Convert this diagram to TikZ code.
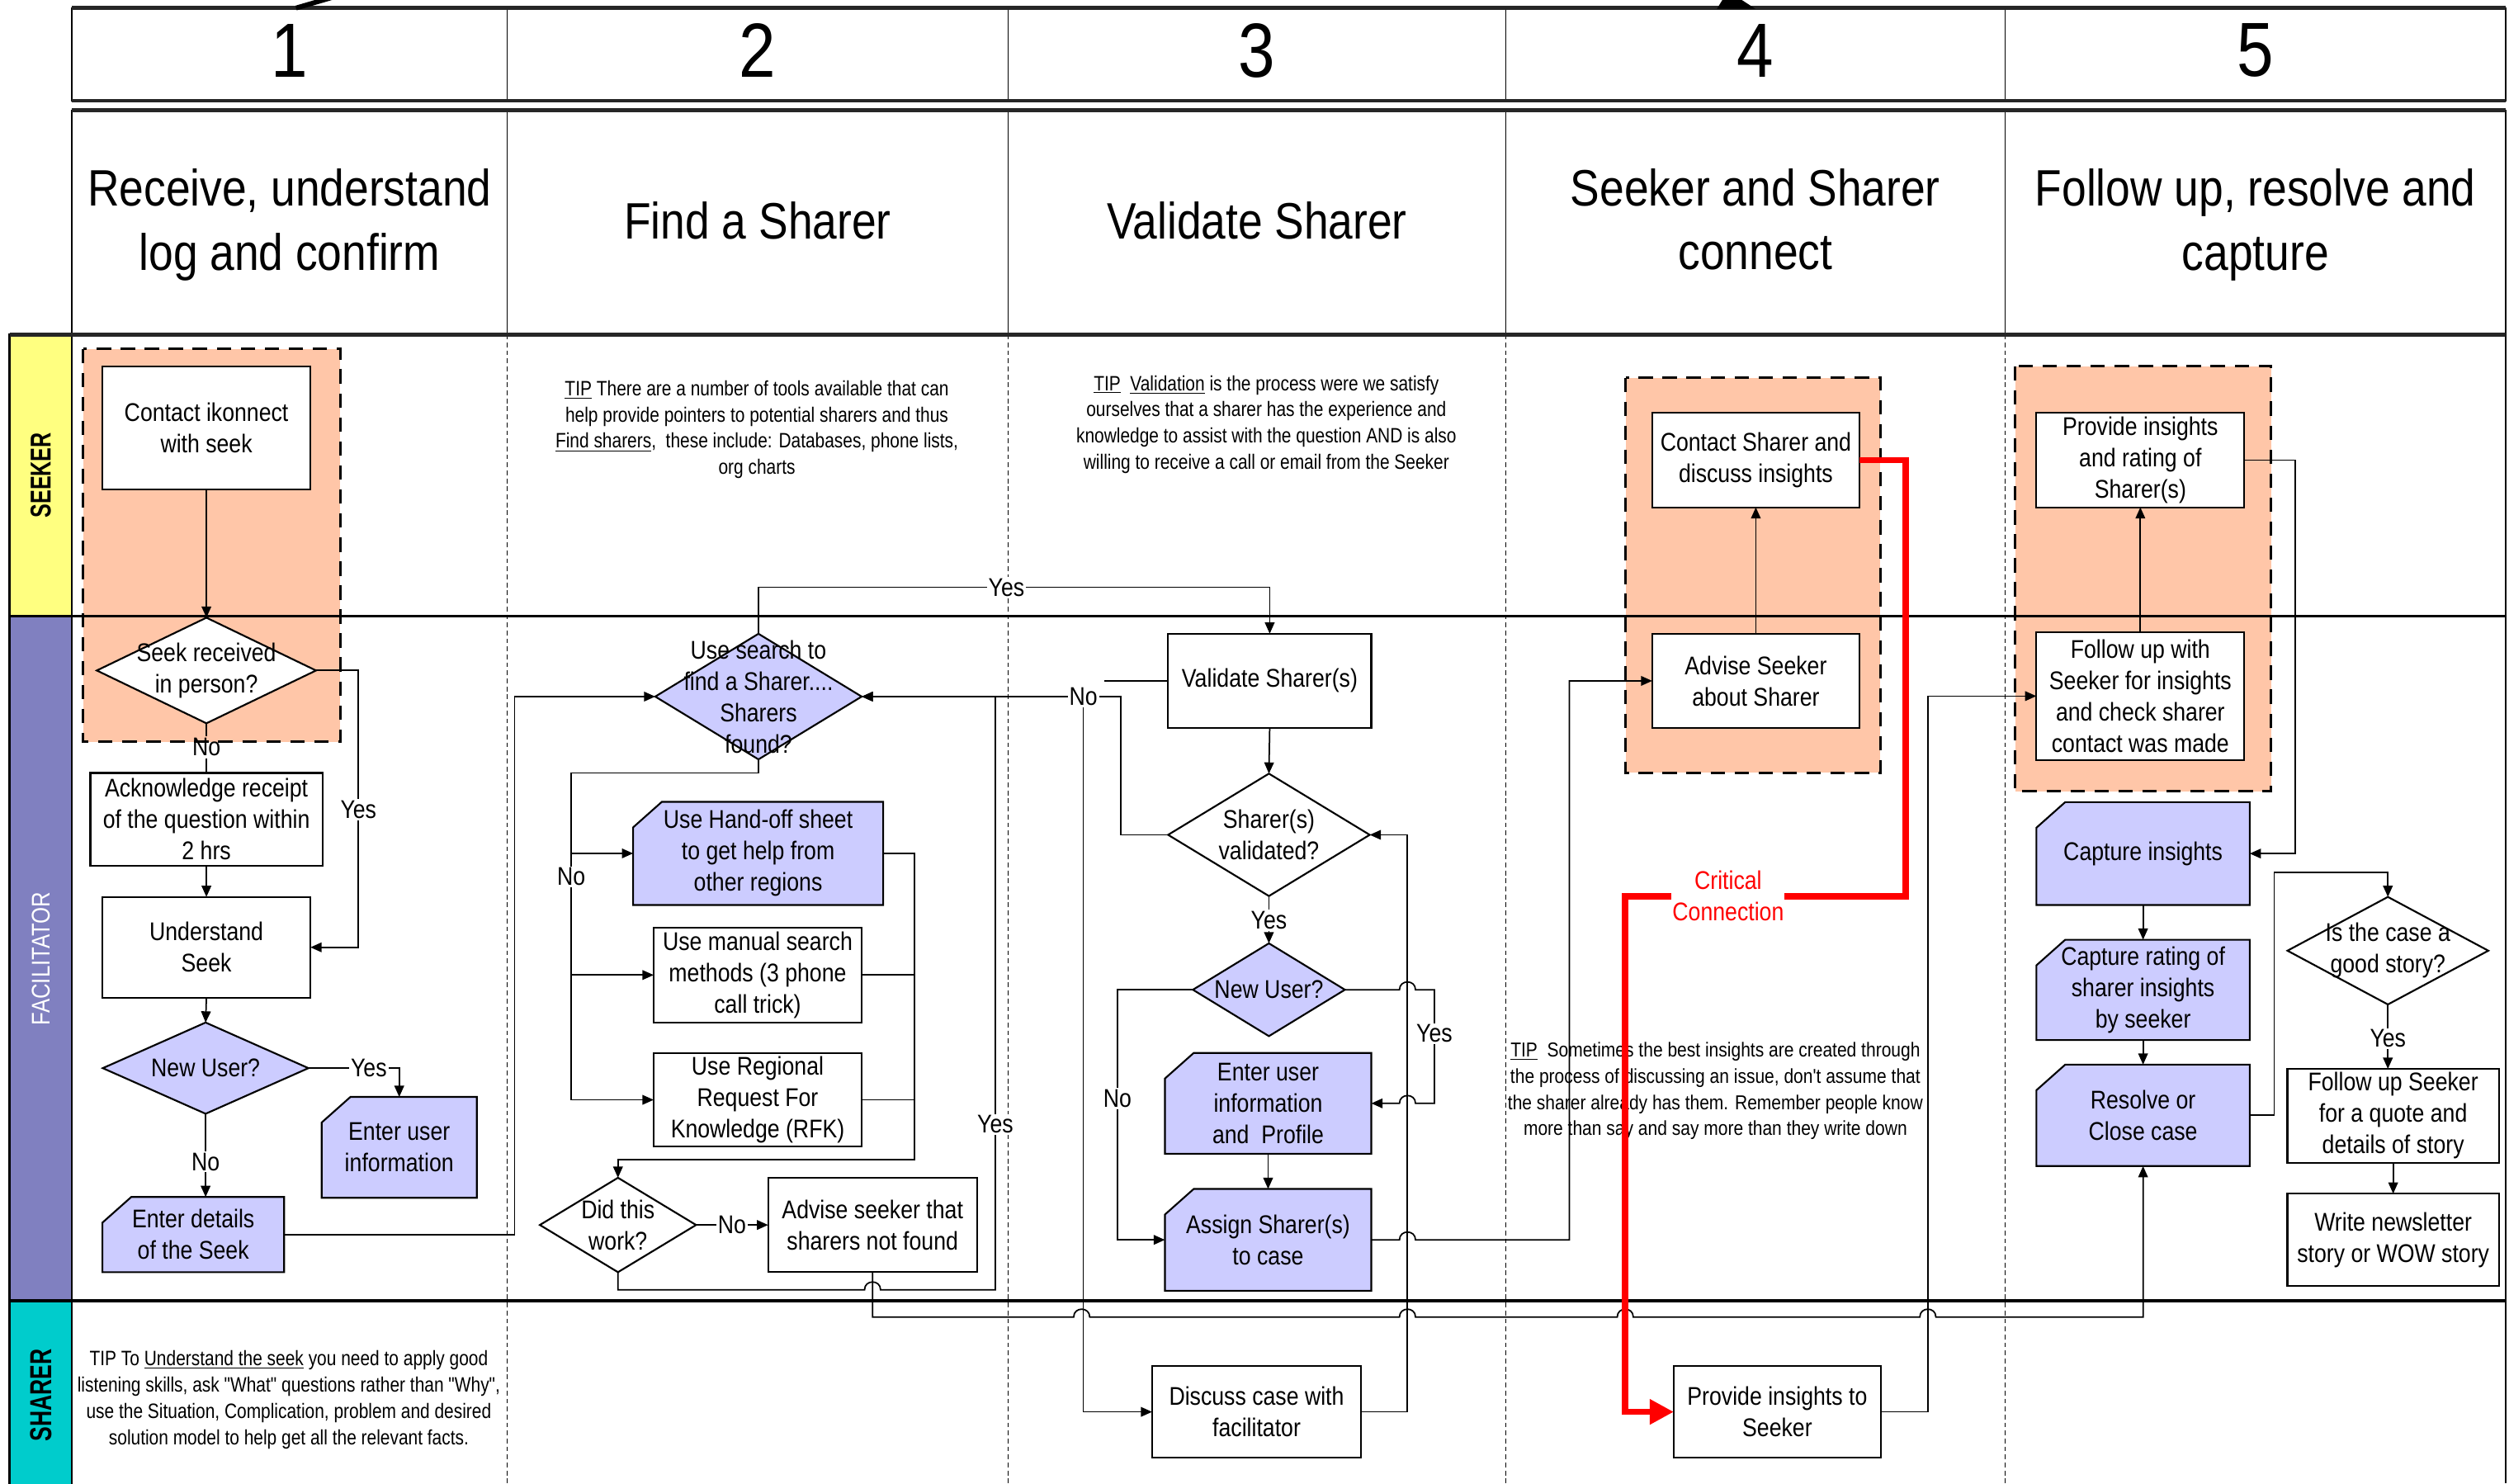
\documentclass[tikz,border=0pt]{standalone}
\usepackage{fontspec}
\setmainfont{Liberation Sans}
\newfontfamily\boxfont[FakeStretch=0.86]{Liberation Sans}
\newfontfamily\narrowfont[FakeStretch=0.83]{Liberation Sans}
\newfontfamily\headfont[FakeStretch=0.86]{Liberation Sans}
\newfontfamily\lanefont[FakeStretch=0.72]{Liberation Sans}
\usetikzlibrary{shapes.geometric,arrows.meta}
\definecolor{salmon}{HTML}{FFC6A8}
\definecolor{lav}{HTML}{CCCCFF}
\definecolor{seekY}{HTML}{FFFF80}
\definecolor{facP}{HTML}{8080C0}
\definecolor{shaC}{HTML}{00CCCC}
\newcommand\bfs{\boxfont\fontsize{16}{19.6}\selectfont}
\newcommand\tipfs{\narrowfont\fontsize{13}{16.4}\selectfont}
\newcommand\mycard[6]{%
  \filldraw[fill=lav,line width=1.1pt] ({#2-#4/2},{#3-#5/2+16}) -- ({#2-#4/2+18},{#3-#5/2}) -- ({#2+#4/2},{#3-#5/2}) -- ({#2+#4/2},{#3+#5/2}) -- ({#2-#4/2},{#3+#5/2}) -- cycle;
  \node[cardtxt,minimum width=#4,minimum height=#5] (#1) at (#2,#3) {#6};}
\begin{document}
\begin{tikzpicture}[x=1pt,y=-1pt,
  box/.style={draw,line width=1.1pt,fill=white,inner sep=0pt,outer sep=0pt,align=center,font=\bfs},
  cardtxt/.style={inner sep=0pt,outer sep=0pt,align=center,font=\bfs},
  dia/.style={diamond,draw,line width=1.1pt,fill=white,inner sep=0pt,outer sep=0pt},
  dlab/.style={font=\bfs,align=center,inner sep=0pt},
  arr/.style={line width=0.9pt,-{Triangle[length=7pt,width=6pt]}},
  conn/.style={line width=0.9pt},
  lbl/.style={font=\bfs,fill=white,inner sep=1pt},
  tip/.style={font=\tipfs,align=center,inner sep=0pt},
  grp/.style={fill=salmon,draw,line width=1.5pt,dash pattern=on 9pt off 6pt},
  numtxt/.style={font=\headfont\fontsize{48}{48}\selectfont,inner sep=0pt},
  titletxt/.style={font=\headfont\fontsize{32}{40}\selectfont,align=center,inner sep=0pt}]
\useasboundingbox (0,0) rectangle (1568,927);
\fill[white] (0,0) rectangle (1568,927);

% lane label column
\filldraw[fill=seekY,line width=1.2pt] (6,209) rectangle (45,385);
\filldraw[fill=facP,line width=1.2pt] (6,385) rectangle (45,813);
\filldraw[fill=shaC,line width=1.2pt] (6,813) rectangle (45,930);

% salmon groups
\draw[grp] (52,218) rectangle (212.6,463.6);
\draw[grp] (1016,236) rectangle (1175,483);
\draw[grp] (1259.5,228.8) rectangle (1419.4,494.4);

% grid
\foreach \x in {317,630,941,1253} {
  \draw[line width=0.8pt,dash pattern=on 3pt off 2pt] (\x,209) -- (\x,927);
  \draw[line width=0.8pt] (\x,5) -- (\x,63);
  \draw[line width=0.8pt] (\x,69) -- (\x,209);
}
\draw[line width=0.8pt] (45,5) rectangle (1566,63);
\draw[line width=0.8pt] (45,69) rectangle (1566,209);
\draw[line width=2.4pt,black!85] (45,5) -- (1566,5) (45,63) -- (1566,63) (45,69) -- (1566,69);
\draw[line width=1pt] (1566,209) -- (1566,927);
\draw[line width=1pt] (45,209) -- (45,927);
\draw[line width=2pt] (6,385) -- (1566,385) (6,813) -- (1566,813);
\draw[line width=2.6pt,black!85] (6,209) -- (1566,209);

% fragments at the very top
\draw[line width=3pt] (185,5) -- (209,-2);
\fill (1073,5.5) -- (1097,5.5) -- (1087,-1) -- (1077,-1) -- cycle;

% headers
\node[numtxt] (h1) at (181,31.6) {1};
\node[numtxt] (h2) at (473.5,31.6) {2};
\node[numtxt] (h3) at (785.5,31.6) {3};
\node[numtxt] (h4) at (1097,31.6) {4};
\node[numtxt] (h5) at (1409.5,31.6) {5};
\node[titletxt] (t1) at (181,140.6) {Receive, understand\\log and confirm};
\node[titletxt] (t2) at (473.5,138) {Find a Sharer};
\node[titletxt] (t3) at (785.5,138) {Validate Sharer};
\node[titletxt] (t4) at (1097,137.2) {Seeker and Sharer\\connect};
\node[titletxt] (t5) at (1409.5,140.6) {Follow up, resolve and\\capture};

% lane names
\node[rotate=90,font=\lanefont\bfseries\fontsize{18}{18}\selectfont] (lseek) at (25.5,297) {SEEKER};
\node[rotate=90,text=white,font=\narrowfont\fontsize{16}{16}\selectfont] (lfac) at (25.5,599) {FACILITATOR};
\node[rotate=90,font=\lanefont\bfseries\fontsize{19}{19}\selectfont] (lsha) at (25.5,872) {SHARER};

% tips
\node[tip] (tip2) at (473,268.5) {\underline{TIP} There are a number of tools available that can\\help provide pointers to potential sharers and thus\\\underline{Find sharers},\ \ these include: Databases, phone lists,\\org charts};
\node[tip] (tip3) at (791.4,265.2) {\underline{TIP}\ \ \underline{Validation} is the process were we satisfy\\ourselves that a sharer has the experience and\\knowledge to assist with the question AND is also\\willing to receive a call or email from the Seeker};
\node[tip,font=\boxfont\fontsize{12.6}{16.4}\selectfont] (tip4) at (1072,681.8) {\underline{TIP}\ \ Sometimes the best insights are created through\\the process of discussing an issue, don't assume that\\the sharer already has them. Remember people know\\more than say and say more than they write down};
\node[tip] (tip1) at (180.5,874.7) {TIP To \underline{Understand the seek} you need to apply good\\listening skills, ask "What" questions rather than "Why",\\use the Situation, Complication, problem and desired\\solution model to help get all the relevant facts.};

% column 1
\node[box,minimum width=130,minimum height=77] (c1) at (129,267.5) {Contact ikonnect\\with seek};
\node[dia,minimum width=137,minimum height=66] (sr) at (129,419) {};
\node[dlab] (srt) at (sr) {Seek received\\in person?};
\node[box,minimum width=145,minimum height=58] (ack) at (129,512) {Acknowledge receipt\\of the question within\\2 hrs};
\node[box,minimum width=130,minimum height=63] (und) at (129,592) {Understand\\Seek};
\node[dia,fill=lav,minimum width=128.5,minimum height=57] (nu1) at (128.5,667.5) {};
\node[dlab] (nu1t) at (nu1) {New User?};
\mycard{eui1}{249.5}{717}{97}{63}{Enter user\\information}
\mycard{eds}{120.8}{771.5}{113.5}{47}{Enter details\\of the Seek}

% column 2
\node[dia,fill=lav,minimum width=129,minimum height=78.5] (se) at (474,435.3) {};
\node[dlab] (set) at (se) {Use search to\\find a Sharer....\\Sharers\\found?};
\mycard{ho}{473.8}{533.3}{156.3}{64.5}{Use Hand-off sheet\\to get help from\\other regions}
\node[box,minimum width=130,minimum height=59.3] (ms) at (473.5,609.3) {Use manual search\\methods (3 phone\\call trick)};
\node[box,minimum width=130,minimum height=58.5] (rfk) at (473.5,687.3) {Use Regional\\Request For\\Knowledge (RFK)};
\node[dia,minimum width=97.6,minimum height=59] (dw) at (386.2,765.5) {};
\node[dlab] (dwt) at (dw) {Did this\\work?};
\node[box,minimum width=130.5,minimum height=59] (asn) at (545.3,765.5) {Advise seeker that\\sharers not found};

% column 3
\node[box,minimum width=127,minimum height=59] (vs) at (793.5,425.5) {Validate Sharer(s)};
\node[dia,minimum width=126,minimum height=76.5] (sv) at (793,521.7) {};
\node[dlab] (svt) at (sv) {Sharer(s)\\validated?};
\node[dia,fill=lav,minimum width=95,minimum height=58] (nu3) at (793,618.5) {};
\node[dlab] (nu3t) at (nu3) {New User?};
\mycard{eui3}{792.5}{689.5}{129}{63}{Enter user\\information\\and\ \ Profile}
\mycard{asg}{792.5}{774.8}{129}{63.6}{Assign Sharer(s)\\to case}
\node[box,minimum width=130.6,minimum height=57.4] (dcf) at (785.3,882.3) {Discuss case with\\facilitator};

% column 4
\node[box,minimum width=129.5,minimum height=59] (csd) at (1097.3,287.5) {Contact Sharer and\\discuss insights};
\node[box,minimum width=129.5,minimum height=59] (ass) at (1097.3,425.5) {Advise Seeker\\about Sharer};
\node[box,minimum width=129.4,minimum height=57.4] (pis) at (1110.7,882.3) {Provide insights to\\Seeker};

% column 5
\node[box,minimum width=130,minimum height=59] (pir) at (1337.6,287.5) {Provide insights\\and rating of\\Sharer(s)};
\node[box,minimum width=130,minimum height=80] (fus) at (1337.6,435) {Follow up with\\Seeker for insights\\and check sharer\\contact was made};
\mycard{ci}{1339.3}{533.4}{133.3}{64.3}{Capture insights}
\mycard{cr}{1339.3}{618.6}{133.3}{62.7}{Capture rating of\\sharer insights\\by seeker}
\mycard{rcc}{1339.3}{697}{133.3}{63.4}{Resolve or\\Close case}
\node[dia,minimum width=125.5,minimum height=67.2] (gs) at (1492.3,594.1) {};
\node[dlab] (gst) at (gs) {Is the case a\\good story?};
\node[box,minimum width=132.2,minimum height=58.7] (fuq) at (1495.6,697.3) {Follow up Seeker\\for a quote and\\details of story};
\node[box,minimum width=132.2,minimum height=57.7] (wn) at (1495.6,774.8) {Write newsletter\\story or WOW story};

% connectors column 1
\draw[arr] (c1.south) -- (sr.north);
\node[font=\bfs,inner sep=1pt] (no1) at (129,467) {No};
\draw[conn] (sr.south) -- (no1.north);
\draw[conn] (no1.south) -- (ack.north);
\draw[arr] (ack.south) -- (und.north);
\draw[arr] (sr.east) -- (224,419) -- (224,592) -- (und.east);
\draw[arr] (und.south) -- (nu1.north);
\draw[arr] (nu1.east) -- (249.5,667.5) -- (eui1.north);
\draw[arr] (nu1.south) -- (nu1.south |- eds.north);
\draw[arr] (eds.east) -- (321.6,771.5) -- (321.6,435.3) -- (se.west);

% connectors column 2
\draw[arr] (se.north) -- (474,367) -- (793.5,367) -- (vs.north);
\coordinate (b1) at (357,533.3);
\coordinate (b2) at (357,609.3);
\draw[arr] (se.south) -- (474,483) -- (357,483) -- (357,687.3) -- (rfk.west);
\draw[arr] (b1) -- (ho.west);
\draw[arr] (b2) -- (ms.west);
\draw[arr] (ho.east) -- (571.6,533.3) -- (571.6,724.7) -- (386.2,724.7) -- (dw.north);
\draw[conn] (ms.east) -- (571.6,609.3);
\draw[conn] (rfk.east) -- (571.6,687.3);
\draw[arr] (dw.east) -- (asn.west);
\draw[arr] (dw.south) -- (386.2,806) -- (540.3,806) .. controls (540.3,799.5) and (550.3,799.5) .. (550.3,806) -- (622,806) -- (622,435.3) -- (se.east);
\draw[arr] (asn.south) -- (545.3,823) -- (671,823) .. controls (671,816.5) and (681,816.5) .. (681,823)
  -- (874.6,823) .. controls (874.6,816.5) and (884.6,816.5) .. (884.6,823)
  -- (1010.7,823) .. controls (1010.7,816.5) and (1020.7,816.5) .. (1020.7,823)
  -- (1199.8,823) .. controls (1199.8,816.5) and (1209.8,816.5) .. (1209.8,823)
  -- (1339.3,823) -- (rcc.south);

% connectors column 3
\draw[arr] (sv.west) -- (700.4,521.7) -- (700.4,435.3) -- (se.east);
\coordinate (vstub) at (690,425.5);
\draw[conn] (vs.west) -- (vstub);
\draw[arr] (vs.south) -- (sv.north);
\draw[arr] (sv.south) -- (nu3.north);
\draw[arr] (nu3.east) -- (874.6,618.5) .. controls (874.6,612) and (884.6,612) .. (884.6,618.5) -- (896.4,618.5) -- (896.4,689.5) -- (884.6,689.5) .. controls (884.6,683) and (874.6,683) .. (874.6,689.5) -- (eui3.east);
\draw[arr] (nu3.west) -- (698.3,618.5) -- (698.3,774.8) -- (asg.west);
\draw[arr] (eui3.south) -- (asg.north);
\draw[arr] (asg.east) -- (874.6,774.8) .. controls (874.6,768.3) and (884.6,768.3) .. (884.6,774.8) -- (980.8,774.8) -- (980.8,425.5) -- (ass.west);
\draw[arr] (dcf.east) -- (879.6,882.3) -- (879.6,521.7) -- (sv.east);

% connectors column 4
\draw[arr] (ass.north) -- (csd.south);
\draw[red,line width=4pt,-{Triangle[length=15pt,width=15pt]}] (csd.east) -- (1191,287.5) -- (1191,560) -- (1015.7,560) -- (1015.7,882.3) -- (pis.west);
\draw[arr] (pis.east) -- (1204.8,882.3) -- (1204.8,435) -- (fus.west);

% connectors column 5
\draw[arr] (fus.north) -- (pir.south);
\draw[arr] (pir.east) -- (1434.3,287.5) -- (1434.3,533.4) -- (ci.east);
\draw[arr] (ci.south) -- (cr.north);
\draw[arr] (cr.south) -- (rcc.north);
\draw[arr] (rcc.east) -- (1421.3,697) -- (1421.3,545) -- (1492.3,545) -- (gs.north);
\draw[arr] (gs.south) -- (gs.south |- fuq.north);
\draw[arr] (fuq.south) -- (fuq.south |- wn.north);

% connector labels
\node[lbl] (y1) at (224,506) {Yes};
\node[lbl] (y2) at (230.5,667.5) {Yes};
\node[lbl] (n2) at (128.5,726) {No};
\node[lbl] (y3) at (629,367) {Yes};
\node[lbl] (n3) at (357,548) {No};
\node[lbl] (n4) at (457.5,765.5) {No};
\node[lbl] (y4) at (622,702.7) {Yes};
\node[lbl] (nolab) at (677,435.3) {No};
\node[lbl] (y5) at (793,575) {Yes};
\node[lbl] (y6) at (896.4,646) {Yes};
\node[lbl] (n5) at (698.3,686.4) {No};
\node[lbl] (y7) at (1492.3,649) {Yes};
\node[lbl,text=red,align=center,inner sep=0.5pt] (crit) at (1080,560) {Critical\\Connection};
\draw[arr] (nolab.south) |- (dcf.west);
\end{tikzpicture}
\end{document}
